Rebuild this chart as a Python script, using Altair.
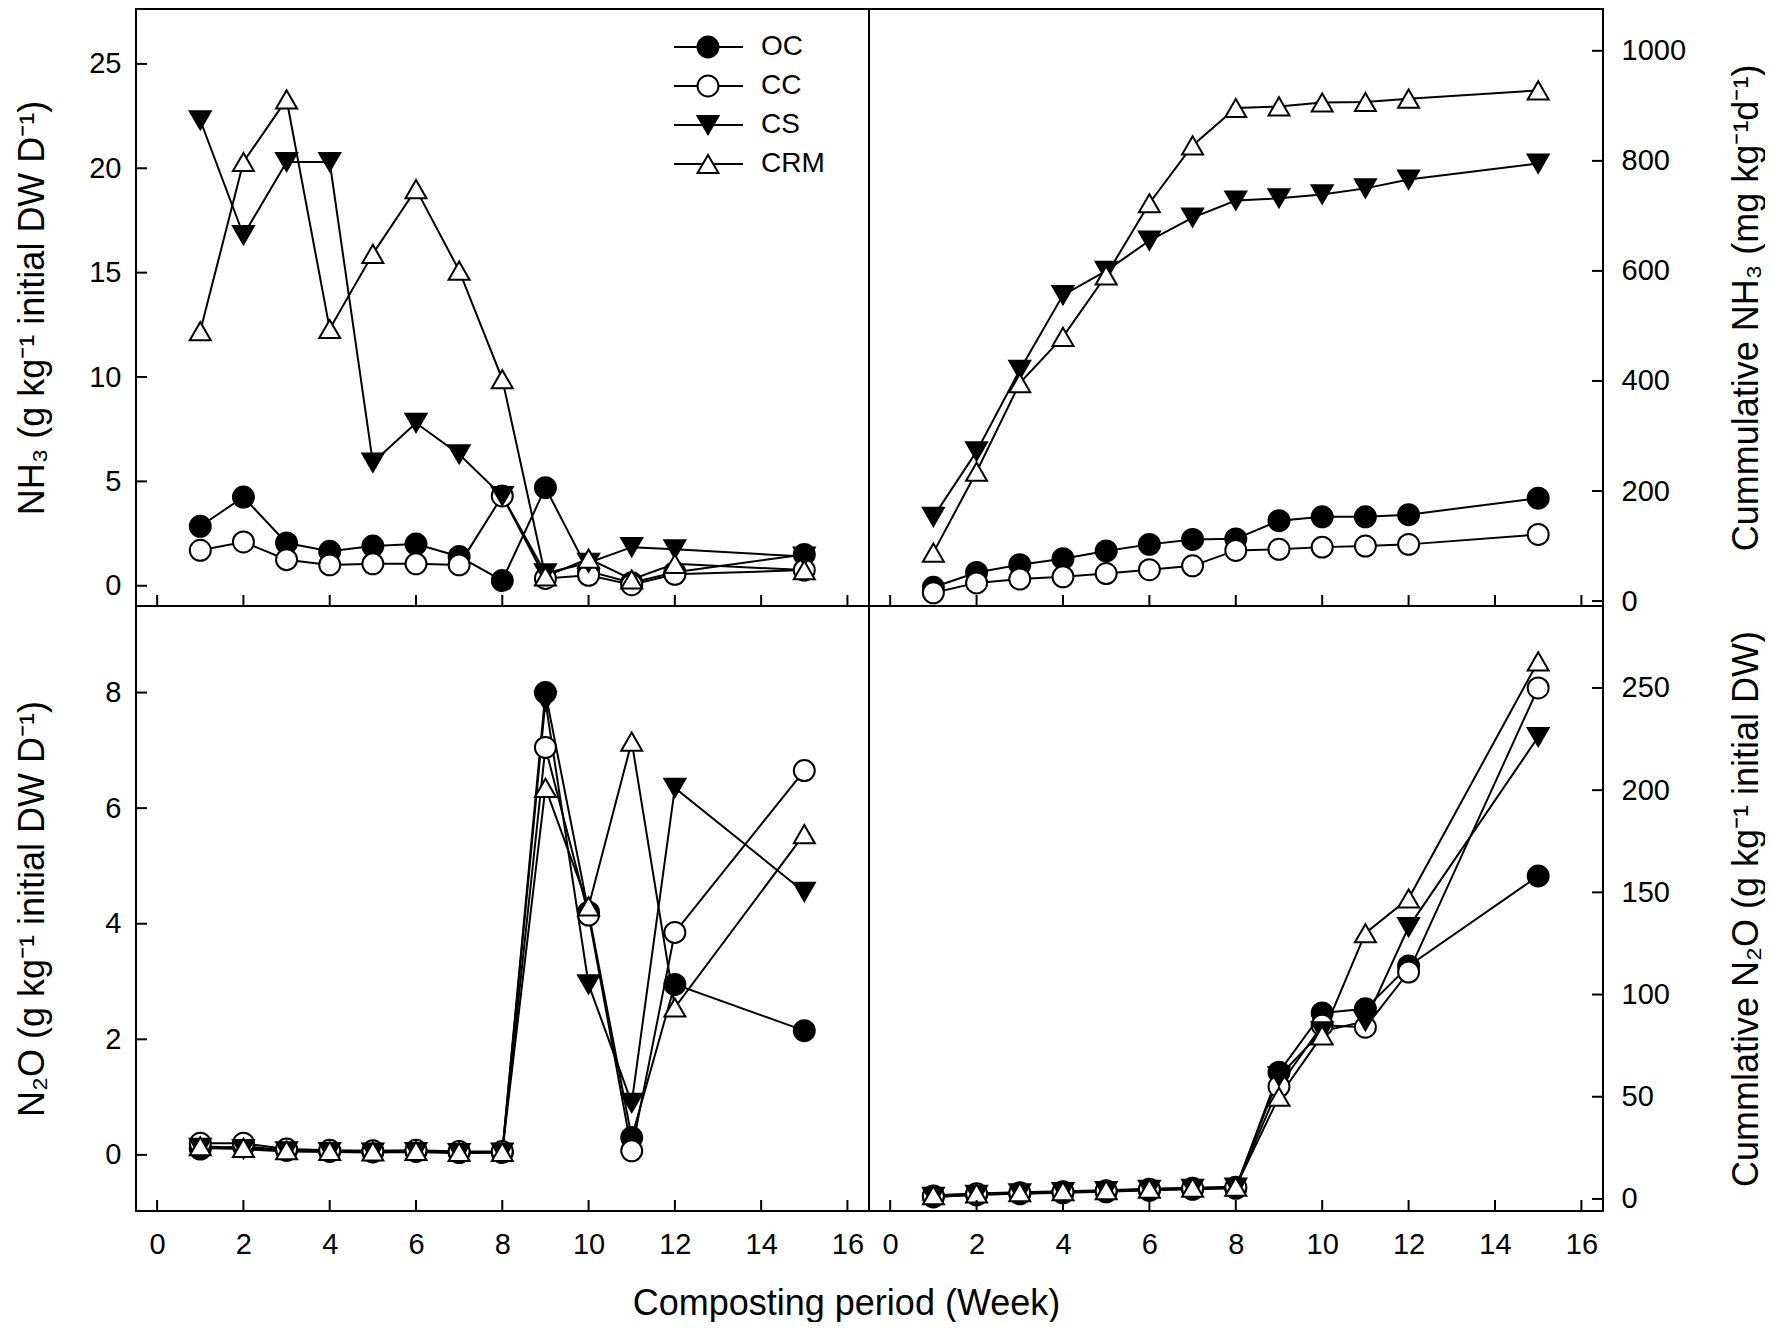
import altair as alt
import pandas as pd

# ---------------- data ----------------
weeks = [1, 2, 3, 4, 5, 6, 7, 8, 9, 10, 11, 12, 15]
series = ["OC", "CC", "CS", "CRM"]

nh3_flux = {
    "OC":  [2.85, 4.25, 2.05, 1.65, 1.9, 2.0, 1.4, 0.25, 4.7, 0.7, 0.15, 0.65, 1.5],
    "CC":  [1.7, 2.1, 1.25, 1.0, 1.05, 1.05, 1.0, 4.3, 0.35, 0.5, 0.05, 0.55, 0.75],
    "CS":  [22.3, 16.8, 20.3, 20.3, 5.9, 7.8, 6.3, 4.3, 0.6, 1.1, 1.85, 1.75, 1.4],
    "CRM": [12.2, 20.3, 23.3, 12.3, 15.9, 19.0, 15.1, 9.9, 0.45, 1.3, 0.3, 1.05, 0.75],
}
nh3_cum = {
    "OC":  [25, 52, 66, 77, 91, 103, 112, 113, 146, 153, 153, 157, 187],
    "CC":  [15, 33, 40, 44, 50, 57, 64, 92, 94, 98, 100, 103, 121],
    "CS":  [153, 272, 420, 556, 600, 655, 697, 728, 732, 739, 750, 766, 795],
    "CRM": [88, 235, 396, 480, 592, 723, 828, 896, 899, 906, 907, 913, 928],
}
n2o_flux = {
    "OC":  [0.1, 0.15, 0.08, 0.06, 0.05, 0.06, 0.04, 0.04, 8.0, 4.2, 0.3, 2.95, 2.15],
    "CC":  [0.2, 0.2, 0.1, 0.08, 0.07, 0.08, 0.06, 0.06, 7.05, 4.15, 0.07, 3.85, 6.65],
    "CS":  [0.12, 0.1, 0.06, 0.05, 0.04, 0.05, 0.03, 0.04, 7.85, 2.95, 0.9, 6.35, 4.55],
    "CRM": [0.15, 0.12, 0.08, 0.07, 0.06, 0.07, 0.05, 0.05, 6.35, 4.3, 7.15, 2.55, 5.55],
}
n2o_cum = {
    "OC":  [1.0, 2.0, 2.5, 3.0, 3.5, 4.2, 4.7, 5.2, 62, 91, 93, 114, 158],
    "CC":  [1.5, 2.5, 3.0, 3.5, 4.0, 4.7, 5.2, 5.7, 55, 85, 84, 111, 250],
    "CS":  [1.0, 2.0, 2.7, 3.3, 3.8, 4.4, 5.0, 5.5, 60, 82, 87, 133, 226],
    "CRM": [1.8, 2.7, 3.3, 3.8, 4.3, 5.0, 5.5, 6.0, 50, 80, 130, 147, 263],
}

x_tick_values = [0, 2, 4, 6, 8, 10, 12, 14, 16]
nh3_flux_ticks = [0, 5, 10, 15, 20, 25]
nh3_cum_ticks = [0, 200, 400, 600, 800, 1000]
n2o_flux_ticks = [0, 2, 4, 6, 8]
n2o_cum_ticks = [0, 50, 100, 150, 200, 250]

title_nh3_flux = "NH\u2083  (g kg\u207b\u00b9 initial DW D\u207b\u00b9)"
title_nh3_cum = "Cummulative NH\u2083  (mg kg\u207b\u00b9d\u207b\u00b9)"
title_n2o_flux = "N\u2082O (g kg\u207b\u00b9 initial DW D\u207b\u00b9)"
title_n2o_cum = "Cummlative N\u2082O (g kg\u207b\u00b9 initial DW)"
title_x = "Composting period (Week)"

# ---------------- styling ----------------
FONT = "Liberation Sans"
shapes = ["circle", "circle", "triangle-down", "triangle-up"]
fills = ["black", "white", "black", "white"]
sizes = [440, 440, 620, 620]

X_DOMAIN = [-0.49, 16.5]
W_LEFT, W_RIGHT = 733, 734
H_TOP, H_BOTTOM = 597, 605
TICK = 11
LABEL_FS = 29
TITLE_FS = 36


def long(d):
    rows = []
    for s in series:
        for w, v in zip(weeks, d[s]):
            rows.append({"week": w, "value": v, "series": s})
    return pd.DataFrame(rows)


shape_enc = alt.Shape("series:N", scale=alt.Scale(domain=series, range=shapes), legend=None)
fill_enc = alt.Fill("series:N", scale=alt.Scale(domain=series, range=fills), legend=None)
size_enc = alt.Size("series:N", scale=alt.Scale(domain=series, range=sizes), legend=None)


def y_axis(side, ticks, title, height):
    common = dict(values=ticks, format="d", tickSize=0, domain=False, grid=False,
                  labelFontSize=LABEL_FS, labelFont=FONT, labelColor="black",
                  labelOverlap=False, title=title, titleFont=FONT, titleFontSize=TITLE_FS,
                  titleFontWeight="normal", titleColor="black", titleAngle=270,
                  titleAlign="center", titleBaseline="middle", titleY=height / 2)
    if side == "left":
        return alt.Axis(orient="left", labelPadding=15, titleX=-104, **common)
    return alt.Axis(orient="right", labelPadding=18, titleX=143, **common)


def x_axis(title):
    kw = dict(orient="bottom", values=x_tick_values, format="d", tickSize=0, domain=False,
              grid=False, labelFontSize=LABEL_FS, labelFont=FONT, labelColor="black",
              labelPadding=19, labelFlush=False, labelOverlap=False)
    if title:
        kw.update(title=title, titleFont=FONT, titleFontSize=TITLE_FS, titleFontWeight="normal",
                  titleColor="black", titleX=710, titleY=103, titleAlign="center",
                  titleBaseline="alphabetic")
    else:
        kw.update(title=None)
    return alt.Axis(**kw)


def panel(data, ydomain, yticks, ytitle, side, width, height, xaxis, legend=False):
    xs = alt.Scale(domain=X_DOMAIN, nice=False, zero=False)
    ys = alt.Scale(domain=ydomain, nice=False, zero=False)
    df = long(data)

    line = alt.Chart(df).mark_line(color="black", strokeWidth=2).encode(
        x=alt.X("week:Q", scale=xs, axis=xaxis),
        y=alt.Y("value:Q", scale=ys, axis=y_axis(side, yticks, ytitle, height)),
        detail="series:N",
    )
    pts = alt.Chart(df).mark_point(filled=True, stroke="black", strokeWidth=2, opacity=1,
                                   fillOpacity=1).encode(
        x=alt.X("week:Q", scale=xs, axis=None),
        y=alt.Y("value:Q", scale=ys, axis=None),
        shape=shape_enc, fill=fill_enc, size=size_enc,
    )
    if side == "left":
        tx, tx2 = alt.value(0), alt.value(TICK)
    else:
        tx, tx2 = alt.value(width), alt.value(width - TICK)
    ytk = alt.Chart(pd.DataFrame({"v": yticks})).mark_rule(color="black", strokeWidth=2).encode(
        y=alt.Y("v:Q", scale=ys, axis=None), x=tx, x2=tx2)
    xtk = alt.Chart(pd.DataFrame({"v": x_tick_values})).mark_rule(color="black", strokeWidth=2).encode(
        x=alt.X("v:Q", scale=xs, axis=None), y=alt.value(height), y2=alt.value(height - TICK))

    layers = [line, pts, ytk, xtk]
    if legend:
        leg_df = pd.DataFrame({"series": series})
        leg_y = alt.Y("series:N", sort=series,
                      scale=alt.Scale(type="point", domain=series, range=[38, 155], padding=0),
                      axis=None)
        leg_line = alt.Chart(leg_df).mark_rule(color="black", strokeWidth=2).encode(
            y=leg_y, x=alt.value(538), x2=alt.value(607))
        leg_pts = alt.Chart(leg_df).mark_point(filled=True, stroke="black", strokeWidth=2,
                                               opacity=1, fillOpacity=1).encode(
            y=leg_y, x=alt.value(572), shape=shape_enc, fill=fill_enc, size=size_enc)
        leg_txt = alt.Chart(leg_df).mark_text(align="left", baseline="middle", font=FONT,
                                              fontSize=28, color="black").encode(
            y=leg_y, x=alt.value(625), text="series:N")
        layers += [leg_line, leg_pts, leg_txt]

    return alt.layer(*layers).resolve_scale(x="independent", y="independent").properties(
        width=width, height=height)


tl = panel(nh3_flux, [-0.97, 27.63], nh3_flux_ticks, title_nh3_flux, "left",
           W_LEFT, H_TOP, None, legend=True)
tr = panel(nh3_cum, [-9.0, 1076.0], nh3_cum_ticks, title_nh3_cum, "right",
           W_RIGHT, H_TOP, None)
bl = panel(n2o_flux, [-0.971, 9.498], n2o_flux_ticks, title_n2o_flux, "left",
           W_LEFT, H_BOTTOM, x_axis(title_x))
br = panel(n2o_cum, [-5.9, 290.1], n2o_cum_ticks, title_n2o_cum, "right",
           W_RIGHT, H_BOTTOM, x_axis(None))

chart = alt.concat(tl, tr, bl, br, columns=2, spacing=0, bounds="flush", align="each").properties(
    padding={"left": 5, "top": 0, "right": 0, "bottom": 0},
    background="white",
).configure(
    font=FONT,
    view=alt.ViewConfig(stroke="black", strokeWidth=2),
)

chart.save("out.html", embed_options={"renderer": "svg", "actions": False})
